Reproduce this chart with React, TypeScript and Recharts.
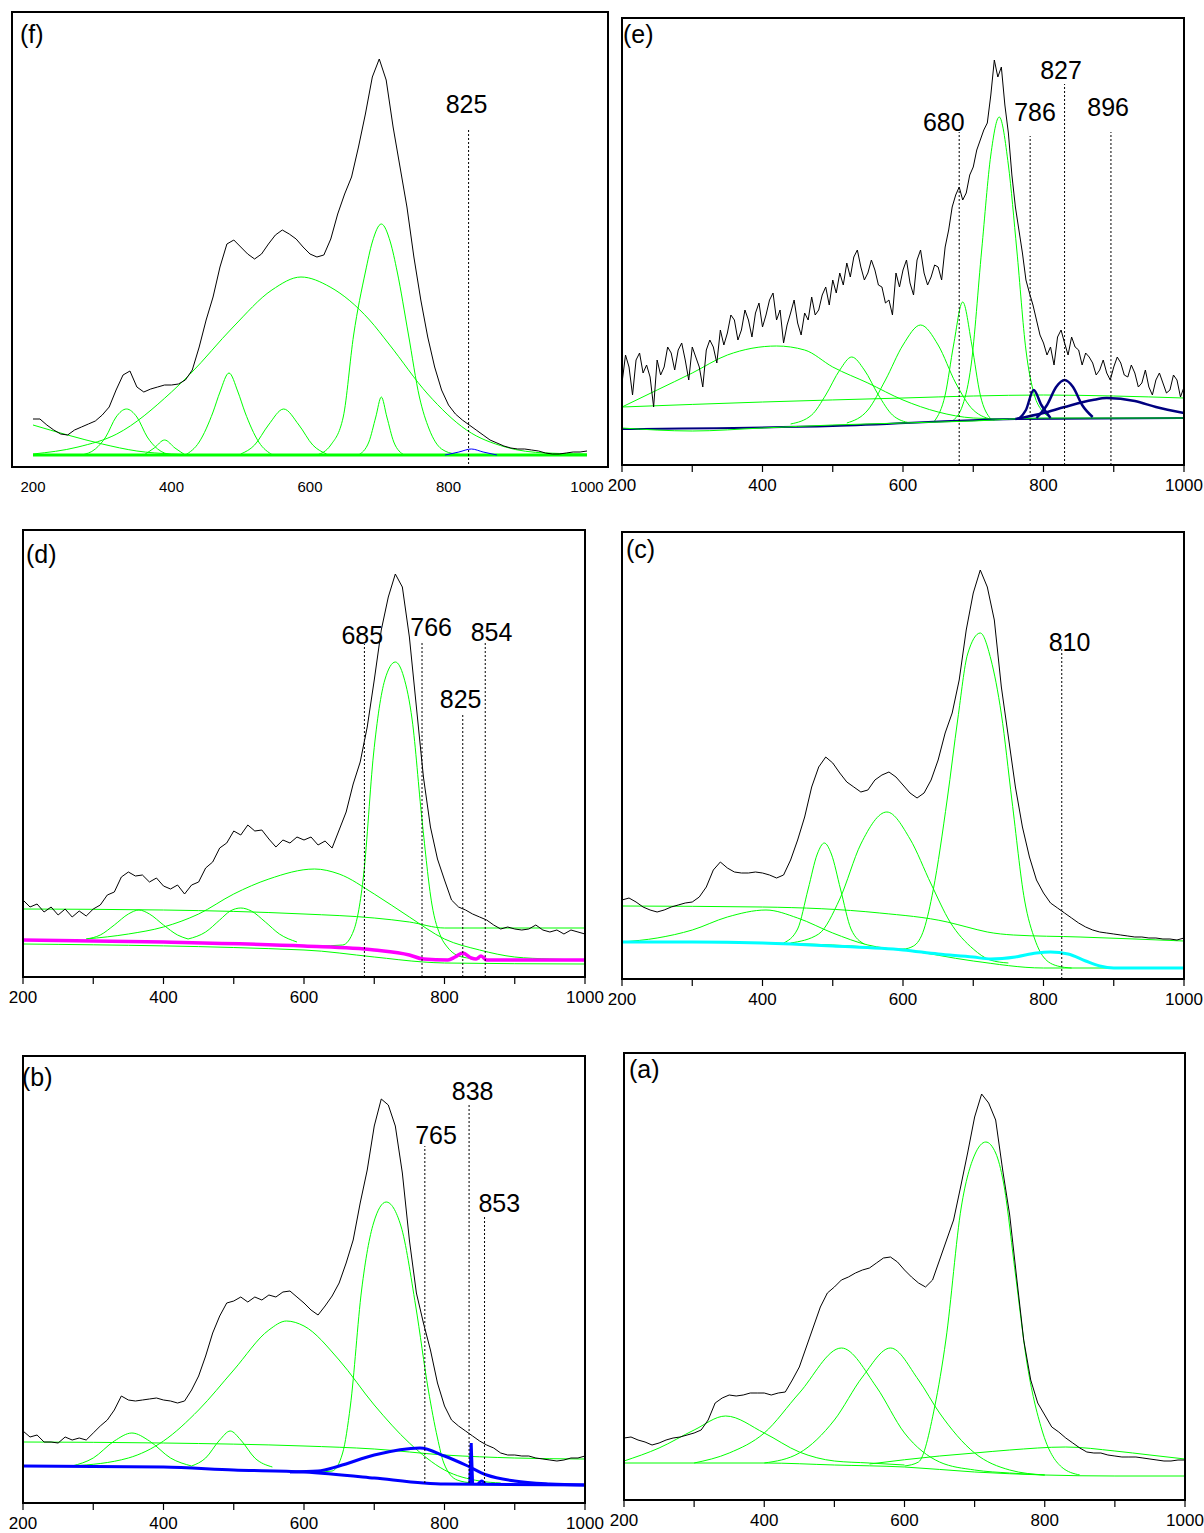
import React from 'react';
import { LineChart, Line, XAxis, YAxis, ReferenceLine, ReferenceDot } from 'recharts';

type Pt = [number, number];
type Mark = { text: string; x: number; top: number; bottom: number; lx: number; ly: number };

// wavelength grids (nm)
const grid10 = [
  200, 210, 220, 230, 240, 250, 260, 270, 280, 290,
  300, 310, 320, 330, 340, 350, 360, 370, 380, 390,
  400, 410, 420, 430, 440, 450, 460, 470, 480, 490,
  500, 510, 520, 530, 540, 550, 560, 570, 580, 590,
  600, 610, 620, 630, 640, 650, 660, 670, 680, 690,
  700, 710, 720, 730, 740, 750, 760, 770, 780, 790,
  800, 810, 820, 830, 840, 850, 860, 870, 880, 890,
  900, 910, 920, 930, 940, 950, 960, 970, 980, 990,
  1000,
];
const grid5 = [
  200, 205, 210, 215, 220, 225, 230, 235, 240, 245,
  250, 255, 260, 265, 270, 275, 280, 285, 290, 295,
  300, 305, 310, 315, 320, 325, 330, 335, 340, 345,
  350, 355, 360, 365, 370, 375, 380, 385, 390, 395,
  400, 405, 410, 415, 420, 425, 430, 435, 440, 445,
  450, 455, 460, 465, 470, 475, 480, 485, 490, 495,
  500, 505, 510, 515, 520, 525, 530, 535, 540, 545,
  550, 555, 560, 565, 570, 575, 580, 585, 590, 595,
  600, 605, 610, 615, 620, 625, 630, 635, 640, 645,
  650, 655, 660, 665, 670, 675, 680, 685, 690, 695,
  700, 705, 710, 715, 720, 725, 730, 735, 740, 745,
  750, 755, 760, 765, 770, 775, 780, 785, 790, 795,
  800, 805, 810, 815, 820, 825, 830, 835, 840, 845,
  850, 855, 860, 865, 870, 875, 880, 885, 890, 895,
  900, 905, 910, 915, 920, 925, 930, 935, 940, 945,
  950, 955, 960, 965, 970, 975, 980, 985, 990, 995,
  1000,
];

const allTicks = [200, 300, 400, 500, 600, 700, 800, 900, 1000];
const majorTicks = [200, 400, 600, 800, 1000];
const yTicks = [35, 72.5, 110, 147.5, 185, 222.5, 260, 297.5, 335, 372.5, 410];

// ---- (f) ----
const fBlack = [
  48, 48, 42, 37, 33, 32, 37, 40, 43, 46,
  52, 60, 77, 92, 96, 80, 75, 78, 80, 82,
  82, 83, 87, 97, 120, 147, 170, 200, 223, 227,
  220, 213, 208, 213, 223, 232, 237, 233, 228, 220,
  213, 210, 212, 228, 253, 273, 290, 320, 353, 390,
  408, 387, 340, 300, 260, 210, 167, 130, 100, 77,
  62, 53, 47, 42, 37, 32, 27, 24, 21, 19,
  18, 18, 17, 16, 14, 13, 13, 14, 15, 15,
  16,
];
const fBase: Pt[] = [[200, 12], [1000, 12]];
const fG1: Pt[] = [[200, 42], [250, 32], [300, 23], [350, 16], [400, 13], [450, 12]];
const fG2: Pt[] = [[270, 12], [290, 18], [305, 30], [320, 50], [335, 58], [350, 50], [365, 30], [380, 18], [400, 12]];
const fG3: Pt[] = [[360, 12], [375, 19], [390, 27], [405, 19], [420, 12]];
const fG4: Pt[] = [[200, 13], [265, 20], [321, 33], [400, 75], [427, 93], [489, 140], [545, 177], [587, 190], [629, 180], [686, 147], [714, 123], [770, 73], [826, 37], [882, 20], [940, 14], [1000, 13]];
const fG5: Pt[] = [[420, 12], [440, 25], [460, 55], [470, 75], [483, 94], [496, 75], [506, 55], [526, 25], [546, 12]];
const fG6: Pt[] = [[500, 13], [520, 22], [540, 42], [562, 58], [584, 42], [604, 22], [624, 13]];
const fG7: Pt[] = [[610, 12], [630, 22], [648, 50], [663, 132], [680, 195], [690, 225], [703, 243], [716, 225], [726, 195], [742, 133], [758, 70], [772, 38], [790, 18], [810, 13], [830, 12]];
const fG8: Pt[] = [[670, 12], [685, 25], [695, 50], [703, 70], [711, 50], [721, 25], [736, 12]];
const fBlue: Pt[] = [[795, 12], [815, 15], [833, 18], [850, 15], [870, 12]];
const fMarks: Mark[] = [{ text: '825', x: 829, top: 338, bottom: 3, lx: 826, ly: 363 }];

// ---- (e) ----
const eBlack = [
  82, 110, 98, 70, 105, 112, 92, 100, 88, 58,
  105, 90, 98, 118, 112, 95, 115, 122, 105, 85,
  118, 108, 98, 78, 115, 125, 118, 102, 135, 120,
  132, 150, 145, 125, 135, 155, 145, 128, 152, 162,
  138, 150, 165, 172, 145, 155, 122, 140, 152, 165,
  142, 130, 152, 145, 168, 150, 155, 170, 178, 160,
  185, 172, 192, 180, 202, 188, 208, 215, 198, 185,
  192, 205, 195, 180, 178, 162, 165, 150, 192, 178,
  195, 205, 182, 170, 205, 215, 192, 180, 188, 200,
  198, 185, 218, 235, 258, 270, 278, 265, 272, 290,
  298, 315, 325, 335, 342, 370, 405, 388, 398, 360,
  332, 290, 258, 235, 212, 185, 172, 160, 145, 130,
  122, 110, 118, 100, 128, 135, 122, 110, 128, 118,
  115, 100, 112, 108, 102, 90, 95, 105, 92, 85,
  98, 108, 102, 90, 88, 100, 92, 78, 82, 95,
  78, 70, 85, 92, 82, 72, 75, 90, 85, 68,
  78,
];
const eBase: Pt[] = [[200, 37], [300, 34], [400, 37], [500, 40], [600, 42], [700, 44], [800, 47], [1000, 47]];
const eFlat: Pt[] = [[200, 58], [400, 63], [600, 67], [700, 69], [800, 70], [900, 69], [1000, 67]];
const eG1: Pt[] = [[200, 58], [250, 75], [300, 92], [350, 110], [420, 119], [460, 115], [500, 98], [550, 82], [600, 65], [650, 53], [700, 47], [750, 46]];
const eG2: Pt[] = [[440, 41], [470, 50], [490, 70], [510, 95], [527, 108], [545, 95], [565, 70], [585, 50], [610, 42]];
const eG3: Pt[] = [[520, 42], [550, 55], [575, 85], [600, 120], [625, 140], [650, 120], [675, 82], [700, 55], [730, 45]];
const eG4: Pt[] = [[645, 44], [660, 70], [672, 120], [685, 163], [698, 120], [710, 70], [725, 46]];
const eG5: Pt[] = [[670, 44], [685, 60], [697, 100], [712, 215], [725, 310], [737, 348], [750, 300], [762, 215], [775, 115], [787, 70], [797, 55], [810, 48]];
const eNavyBase: Pt[] = [[200, 36], [500, 39], [760, 46], [1000, 47]];
const eN1: Pt[] = [[765, 46], [775, 55], [786, 75], [797, 60], [810, 47]];
const eN2: Pt[] = [[790, 47], [805, 60], [818, 78], [830, 85], [842, 78], [855, 60], [870, 48]];
const eN3: Pt[] = [[760, 46], [800, 52], [830, 58], [870, 65], [890, 67], [930, 64], [960, 58], [1000, 52]];
const eMarks: Mark[] = [
  { text: '680', x: 680, top: 333, bottom: 0, lx: 658, ly: 343 },
  { text: '786', x: 781, top: 329, bottom: 0, lx: 788, ly: 353 },
  { text: '827', x: 830, top: 381, bottom: 0, lx: 825, ly: 395 },
  { text: '896', x: 896, top: 333, bottom: 0, lx: 892, ly: 358 },
];

// ---- (d) ----
const dBlack = [
  77, 70, 73, 65, 70, 62, 68, 60, 66, 61,
  68, 72, 82, 85, 100, 105, 101, 102, 95, 99,
  91, 88, 92, 83, 92, 95, 109, 115, 129, 134,
  146, 142, 152, 146, 147, 138, 130, 137, 134, 140,
  137, 140, 132, 136, 129, 147, 165, 193, 215, 250,
  297, 347, 380, 403, 390, 340, 270, 200, 150, 118,
  97, 77, 70, 67, 63, 60, 57, 52, 48, 50,
  48, 47, 48, 52, 47, 45, 47, 43, 47, 45,
  43,
];
const dFlat: Pt[] = [[200, 68], [400, 67], [600, 63], [700, 59], [750, 55], [800, 49], [1000, 49]];
const dG1: Pt[] = [[290, 38], [310, 42], [330, 52], [350, 63], [365, 67], [380, 63], [400, 52], [420, 42], [435, 38]];
const dG2: Pt[] = [[435, 38], [460, 45], [480, 57], [495, 66], [510, 69], [525, 66], [545, 55], [565, 43], [590, 35]];
const dG3: Pt[] = [[290, 38], [350, 43], [400, 50], [450, 63], [500, 83], [550, 98], [615, 108], [650, 103], [700, 83], [750, 60], [800, 38], [850, 27], [900, 20], [950, 18], [1000, 17]];
const dG4: Pt[] = [[620, 31], [655, 32], [671, 47], [685, 103], [699, 223], [715, 297], [730, 315], [742, 300], [754, 257], [768, 157], [782, 73], [795, 40], [804, 30], [825, 20], [850, 18]];
const dLow: Pt[] = [[200, 33], [600, 27], [700, 20], [770, 15], [800, 14], [1000, 13]];
const dMag: Pt[] = [[200, 37], [400, 35], [600, 31], [700, 27], [750, 22], [770, 18], [805, 17], [815, 20], [826, 24], [838, 19], [845, 18], [852, 21], [860, 17], [880, 17], [1000, 17]];
const dMarks: Mark[] = [
  { text: '685', x: 686, top: 333, bottom: 0, lx: 683, ly: 342 },
  { text: '766', x: 768, top: 335, bottom: 0, lx: 781, ly: 350 },
  { text: '825', x: 826, top: 262, bottom: 0, lx: 823, ly: 278 },
  { text: '854', x: 858, top: 335, bottom: 0, lx: 867, ly: 345 },
];

// ---- (c) ----
const cBlack = [
  79, 81, 77, 72, 69, 67, 69, 72, 74, 76,
  77, 82, 92, 109, 117, 111, 107, 106, 106, 107,
  106, 104, 101, 104, 119, 139, 162, 192, 212, 222,
  216, 206, 197, 192, 187, 189, 199, 204, 207, 202,
  194, 186, 181, 186, 199, 219, 246, 266, 299, 349,
  386, 409, 392, 359, 292, 242, 192, 152, 122, 99,
  86, 76, 71, 66, 61, 56, 52, 49, 47, 46,
  45, 44, 43, 42, 42, 41, 41, 40, 40, 39,
  41,
];
const cFlat: Pt[] = [[200, 73], [400, 72], [567, 66], [663, 57], [691, 52], [720, 47], [757, 44], [852, 42], [1000, 38]];
const cG1: Pt[] = [[200, 37], [250, 41], [300, 49], [350, 62], [405, 69], [450, 61], [500, 46], [550, 34], [600, 29]];
const cG2: Pt[] = [[430, 36], [450, 50], [465, 90], [478, 125], [488, 136], [498, 125], [511, 90], [526, 50], [545, 35]];
const cG3: Pt[] = [[440, 36], [480, 45], [510, 80], [540, 135], [577, 167], [610, 140], [640, 95], [667, 57], [700, 30], [724, 19], [750, 16]];
const cG4: Pt[] = [[580, 30], [600, 30], [615, 33], [630, 50], [643, 89], [663, 180], [678, 260], [692, 325], [710, 346], [725, 320], [740, 265], [755, 179], [773, 79], [788, 39], [800, 22], [820, 13], [840, 11]];
const cLow: Pt[] = [[200, 37], [400, 36], [600, 29], [700, 18], [800, 11], [1000, 11]];
const cCyan: Pt[] = [[200, 37], [300, 37], [400, 36], [500, 33], [600, 29], [650, 25], [700, 22], [725, 20], [760, 22], [790, 26], [810, 27], [835, 25], [860, 18], [880, 13], [900, 11], [1000, 11]];
const cMarks: Mark[] = [{ text: '810', x: 826, top: 332, bottom: 0, lx: 837, ly: 337 }];

// ---- (b) ----
const bBlack = [
  72, 66, 68, 61, 61, 60, 66, 63, 65, 63,
  70, 77, 83, 93, 107, 103, 102, 103, 104, 105,
  103, 102, 100, 102, 113, 127, 147, 170, 187, 200,
  202, 206, 201, 206, 203, 208, 206, 211, 212, 206,
  200, 193, 188, 197, 207, 220, 240, 263, 300, 333,
  377, 404, 398, 377, 330, 263, 210, 180, 153, 120,
  97, 83, 77, 72, 67, 62, 58, 55, 50, 48,
  48, 47, 47, 45, 44, 43, 42, 43, 45, 45,
  47,
];
const bFlat: Pt[] = [[200, 61], [400, 60], [600, 57], [700, 54], [800, 48], [900, 45], [1000, 44]];
const bG1: Pt[] = [[270, 37], [300, 45], [330, 62], [355, 70], [380, 62], [410, 45], [440, 37]];
const bG2: Pt[] = [[440, 37], [460, 45], [480, 63], [495, 72], [510, 63], [530, 45], [555, 36]];
const bG3: Pt[] = [[270, 37], [350, 45], [400, 62], [450, 93], [500, 133], [550, 173], [575, 182], [600, 177], [650, 143], [700, 98], [750, 60], [800, 33], [850, 22], [880, 20]];
const bG4: Pt[] = [[620, 31], [640, 32], [655, 50], [666, 97], [682, 213], [699, 280], [717, 301], [738, 277], [759, 197], [777, 113], [790, 65], [799, 40], [818, 23], [840, 20]];
const bBlueBase: Pt[] = [[200, 37], [400, 36], [500, 33], [600, 31], [700, 25], [770, 20], [800, 19], [1000, 18]];
const bBlue1: Pt[] = [[580, 31], [620, 32], [650, 37], [700, 48], [765, 55], [800, 47], [830, 38], [860, 28], [900, 22], [950, 19], [1000, 18]];
const bSpike: Pt[] = [[836, 19], [838, 60], [840, 19]];
const bBump: Pt[] = [[848, 19], [853, 22], [858, 19]];
const bMarks: Mark[] = [
  { text: '765', x: 772, top: 357, bottom: 20, lx: 788, ly: 368 },
  { text: '838', x: 835, top: 400, bottom: 20, lx: 840, ly: 412 },
  { text: '853', x: 857, top: 288, bottom: 20, lx: 878, ly: 300 },
];

// ---- (a) ----
const aBlack = [
  62, 63, 60, 58, 55, 57, 60, 62, 63, 65,
  67, 70, 80, 97, 102, 105, 104, 105, 107, 107,
  107, 105, 107, 108, 120, 133, 153, 173, 193, 207,
  213, 220, 223, 227, 230, 232, 237, 242, 243, 238,
  230, 223, 217, 213, 220, 240, 260, 280, 313, 347,
  383, 406, 397, 380, 330, 285, 222, 160, 120, 97,
  85, 73, 68, 62, 57, 52, 48, 47, 47, 45,
  44, 43, 43, 43, 42, 41, 40, 39, 39, 40,
  40,
];
const aBase: Pt[] = [[200, 37], [400, 37], [500, 35], [600, 33], [700, 28], [800, 25], [900, 24], [1000, 24]];
const aG1: Pt[] = [[200, 39], [250, 52], [300, 70], [345, 84], [400, 67], [450, 48], [500, 39], [550, 37], [600, 35]];
const aG2: Pt[] = [[300, 37], [350, 47], [400, 67], [450, 107], [510, 152], [560, 113], [600, 67], [650, 38], [700, 30], [750, 27], [800, 25]];
const aG3: Pt[] = [[400, 37], [450, 47], [500, 80], [540, 123], [580, 152], [620, 120], [650, 87], [700, 47], [750, 30], [800, 25]];
const aG4: Pt[] = [[600, 34], [620, 38], [643, 93], [659, 160], [681, 293], [700, 345], [716, 358], [730, 347], [741, 318], [758, 227], [774, 140], [796, 70], [824, 33], [850, 25]];
const aHump: Pt[] = [[550, 36], [650, 44], [700, 47], [750, 50], [830, 53], [900, 49], [950, 45], [1000, 41]];

const GREEN = '#00ff00';
const FONT = 'Arial, "Liberation Sans", Helvetica, sans-serif';

const rows = (pts: Pt[]) => pts.map(([x, y]) => ({ x, y }));
const zip = (xs: number[], ys: number[]) => xs.map((x, i) => ({ x, y: ys[i] }));

type Curve = { pts: Pt[]; color: string; width?: number; linear?: boolean };

type PanelProps = {
  left: number;
  top: number;
  w: number;
  h: number;
  black: { x: number; y: number }[];
  curves: Curve[];
  marks: Mark[];
  tag: string;
  tagPos: [number, number];
  frame: [number, number, number, number];
  boxed?: boolean;
};

function Panel(p: PanelProps) {
  const ml = 40;
  const mr = 40;
  const mt = 10;
  const xh = 40;
  const boxed = !!p.boxed;
  return (
    <>
      <div style={{ position: 'absolute', left: p.left - ml, top: p.top - mt }}>
        <LineChart
          width={p.w + ml + mr}
          height={p.h + mt + xh}
          margin={{ top: mt, right: mr, bottom: 0, left: ml }}
        >
          <XAxis
            type="number"
            dataKey="x"
            domain={[200, 1000]}
            allowDataOverflow
            ticks={boxed ? majorTicks : allTicks}
            interval={0}
            height={xh}
            axisLine={false}
            tickLine={boxed ? false : { stroke: '#000', strokeWidth: 1.2 }}
            tickSize={boxed ? 0 : 7}
            tickMargin={boxed ? 14 : 7}
            tickFormatter={(v: number) => (v % 200 === 0 ? String(v) : '')}
            tick={{ fontSize: boxed ? 15 : 17, fill: '#000', fontFamily: FONT }}
          />
          <YAxis
            type="number"
            domain={[0, p.h]}
            allowDataOverflow
            hide={boxed}
            mirror
            width={0}
            ticks={yTicks}
            tick={false}
            axisLine={false}
            tickLine={{ stroke: '#000' }}
            tickSize={3}
          />
          {p.curves.map((c, i) => (
            <Line
              key={i}
              data={rows(c.pts)}
              dataKey="y"
              type={c.linear ? 'linear' : 'monotone'}
              stroke={c.color}
              strokeWidth={c.width ?? 1}
              dot={false}
              activeDot={false}
              isAnimationActive={false}
            />
          ))}
          <Line
            data={p.black}
            dataKey="y"
            type="linear"
            stroke="#000"
            strokeWidth={1}
            dot={false}
            activeDot={false}
            isAnimationActive={false}
          />
          {p.marks.map((m) => (
            <ReferenceLine
              key={'l' + m.text}
              segment={[{ x: m.x, y: m.bottom }, { x: m.x, y: m.top }]}
              stroke="#000"
              strokeWidth={1}
              strokeDasharray="2 2"
            />
          ))}
          {p.marks.map((m) => (
            <ReferenceDot
              key={'t' + m.text}
              x={m.lx}
              y={m.ly}
              r={1}
              fill="none"
              stroke="none"
              label={{ value: m.text, position: 'center', fontSize: 25, fill: '#000', fontFamily: FONT }}
            />
          ))}
        </LineChart>
      </div>
      <div
        style={{
          position: 'absolute',
          left: p.frame[0],
          top: p.frame[1],
          width: p.frame[2],
          height: p.frame[3],
          border: '2px solid #000',
          boxSizing: 'border-box',
          pointerEvents: 'none',
        }}
      />
      <div
        style={{
          position: 'absolute',
          left: p.tagPos[0],
          top: p.tagPos[1],
          fontSize: 25,
          lineHeight: 1,
          fontFamily: FONT,
          color: '#000',
        }}
      >
        {p.tag}
      </div>
    </>
  );
}

export default function App() {
  return (
    <div
      style={{
        position: 'absolute',
        left: 0,
        top: 0,
        width: 1204,
        height: 1533,
        background: '#fff',
        fontFamily: FONT,
        overflow: 'hidden',
      }}
    >
      <Panel
        left={33}
        top={12}
        w={554}
        h={455}
        boxed
        frame={[11, 11, 598, 457]}
        tag="(f)"
        tagPos={[20, 22]}
        black={zip(grid10, fBlack)}
        marks={fMarks}
        curves={[
          { pts: fG1, color: GREEN },
          { pts: fG2, color: GREEN },
          { pts: fG3, color: GREEN },
          { pts: fG4, color: GREEN },
          { pts: fG5, color: GREEN },
          { pts: fG6, color: GREEN },
          { pts: fG7, color: GREEN },
          { pts: fG8, color: GREEN },
          { pts: fBase, color: GREEN, width: 3, linear: true },
          { pts: fBlue, color: '#0000ff' },
        ]}
      />
      <Panel
        left={622}
        top={18}
        w={562}
        h={447}
        frame={[621, 17, 564, 449]}
        tag="(e)"
        tagPos={[623, 22]}
        black={zip(grid5, eBlack)}
        marks={eMarks}
        curves={[
          { pts: eFlat, color: GREEN },
          { pts: eG1, color: GREEN },
          { pts: eG2, color: GREEN },
          { pts: eG3, color: GREEN },
          { pts: eG4, color: GREEN },
          { pts: eG5, color: GREEN },
          { pts: eNavyBase, color: '#000080', width: 2 },
          { pts: eBase, color: GREEN },
          { pts: eN1, color: '#000080', width: 2.5 },
          { pts: eN2, color: '#000080', width: 2.5 },
          { pts: eN3, color: '#000080', width: 2.5 },
        ]}
      />
      <Panel
        left={23}
        top={530}
        w={562}
        h={447}
        frame={[22, 529, 564, 449]}
        tag="(d)"
        tagPos={[26, 542]}
        black={zip(grid10, dBlack)}
        marks={dMarks}
        curves={[
          { pts: dFlat, color: GREEN },
          { pts: dG1, color: GREEN },
          { pts: dG2, color: GREEN },
          { pts: dG3, color: GREEN },
          { pts: dG4, color: GREEN },
          { pts: dLow, color: GREEN },
          { pts: dMag, color: '#ff00ff', width: 3.5 },
        ]}
      />
      <Panel
        left={622}
        top={532}
        w={562}
        h={447}
        frame={[621, 531, 564, 449]}
        tag="(c)"
        tagPos={[626, 537]}
        black={zip(grid10, cBlack)}
        marks={cMarks}
        curves={[
          { pts: cFlat, color: GREEN },
          { pts: cG1, color: GREEN },
          { pts: cG2, color: GREEN },
          { pts: cG3, color: GREEN },
          { pts: cG4, color: GREEN },
          { pts: cLow, color: GREEN },
          { pts: cCyan, color: '#00ffff', width: 3 },
        ]}
      />
      <Panel
        left={23}
        top={1056}
        w={562}
        h={447}
        frame={[22, 1055, 564, 449]}
        tag="(b)"
        tagPos={[22, 1065]}
        black={zip(grid10, bBlack)}
        marks={bMarks}
        curves={[
          { pts: bFlat, color: GREEN },
          { pts: bG1, color: GREEN },
          { pts: bG2, color: GREEN },
          { pts: bG3, color: GREEN },
          { pts: bG4, color: GREEN },
          { pts: bBlueBase, color: '#0000ff', width: 3 },
          { pts: bBlue1, color: '#0000ff', width: 3 },
          { pts: bSpike, color: '#0000ff', width: 3, linear: true },
          { pts: bBump, color: '#0000ff', width: 3 },
        ]}
      />
      <Panel
        left={624}
        top={1053}
        w={561}
        h={447}
        frame={[623, 1052, 563, 449]}
        tag="(a)"
        tagPos={[629, 1057]}
        black={zip(grid10, aBlack)}
        marks={[]}
        curves={[
          { pts: aHump, color: GREEN },
          { pts: aG1, color: GREEN },
          { pts: aG2, color: GREEN },
          { pts: aG3, color: GREEN },
          { pts: aG4, color: GREEN },
          { pts: aBase, color: GREEN },
        ]}
      />
    </div>
  );
}
